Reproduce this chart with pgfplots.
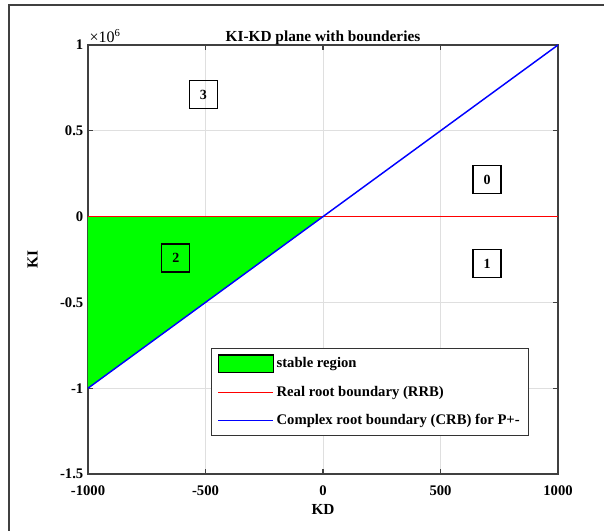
\documentclass[border=0pt]{standalone}
\usepackage{pgfplots}
\pgfplotsset{compat=1.18}
\usepackage{fontspec}
\setmainfont{Liberation Serif}
\begin{document}
\begin{tikzpicture}[x=0.75pt,y=0.75pt]
\useasboundingbox (0,0) rectangle (604,531);
\draw[line width=0.8pt, black!75] (9,0) -- (9,526) -- (604,526);
\begin{axis}[
  name=ax,
  at={(88pt*0.75,57pt*0.75)}, anchor=south west,
  scale only axis, width=352.5pt, height=321.75pt,
  xmin=-1000, xmax=1000, ymin=-1.5e6, ymax=1e6,
  xtick={-1000,-500,0,500,1000},
  xticklabels={-1000,-500,0,500,1000},
  ytick={-1.5e6,-1e6,-0.5e6,0,0.5e6,1e6},
  yticklabels={-1.5,-1,-0.5,0,0.5,1},
  scaled y ticks=false,
  grid=major, major grid style={gray!25, line width=0.6pt},
  axis line style={black!75, line width=1.1pt},
  major tick style={black!75, line width=0.8pt},
  major tick length=4pt,
  tick label style={font=\fontsize{11}{13}\selectfont\bfseries},
  xticklabel style={yshift=-5pt},
  label style={font=\fontsize{11.5}{13}\selectfont\bfseries},
  xlabel style={yshift=0pt},
  ylabel style={yshift=10pt},
  title style={font=\fontsize{11.5}{13}\selectfont\bfseries, yshift=-9.5pt},
  title={KI-KD plane with bounderies},
  xlabel={KD}, ylabel={KI},
  legend style={at={(0.262,0.294)}, anchor=north west, draw=black!80, line width=0.9pt,
    font=\fontsize{11}{12}\selectfont\bfseries, row sep=8pt, inner sep=4.5pt,
    cells={anchor=west}},
  legend cell align=left,
]
\addplot[fill=green, draw=none, forget plot] coordinates {(-1000,0) (0,0) (-1000,-1e6)} -- cycle;
\addplot[red, line width=1pt, forget plot] coordinates {(-1000,0) (1000,0)};
\addplot[blue, line width=1.1pt, forget plot] coordinates {(-1000,-1e6) (1000,1e6)};
\addlegendimage{legend image code/.code={\draw[fill=green,draw=black,line width=0.9pt] (0.1cm,-0.23cm) rectangle (1.55cm,0.23cm);}}
\addlegendentry{stable region}
\addlegendimage{legend image code/.code={\draw[draw=red,line width=0.8pt] (0.1cm,0cm) -- (1.55cm,0cm);}}
\addlegendentry{Real root boundary (RRB)}
\addlegendimage{legend image code/.code={\draw[draw=blue,line width=0.8pt] (0.1cm,0cm) -- (1.55cm,0cm);}}
\addlegendentry{Complex root boundary (CRB) for P+-}
\node[draw=black, line width=0.9pt, minimum size=21pt, inner sep=0pt, font=\fontsize{10.5}{12}\selectfont\bfseries] at (axis cs:-509,0.711e6) {3};
\node[draw=black, line width=0.9pt, minimum size=21pt, inner sep=0pt, font=\fontsize{10.5}{12}\selectfont\bfseries] at (axis cs:-626,-0.241e6) {2};
\node[draw=black, line width=0.9pt, minimum size=21pt, inner sep=0pt, font=\fontsize{10.5}{12}\selectfont\bfseries] at (axis cs:698,0.216e6) {0};
\node[draw=black, line width=0.9pt, minimum size=21pt, inner sep=0pt, font=\fontsize{10.5}{12}\selectfont\bfseries] at (axis cs:698,-0.274e6) {1};
\end{axis}
\node[anchor=south west, inner sep=0pt, xshift=1pt, yshift=1.5pt, font=\fontsize{12}{13}\selectfont] at (ax.north west) {×10\textsuperscript{6}};
\end{tikzpicture}
\end{document}
